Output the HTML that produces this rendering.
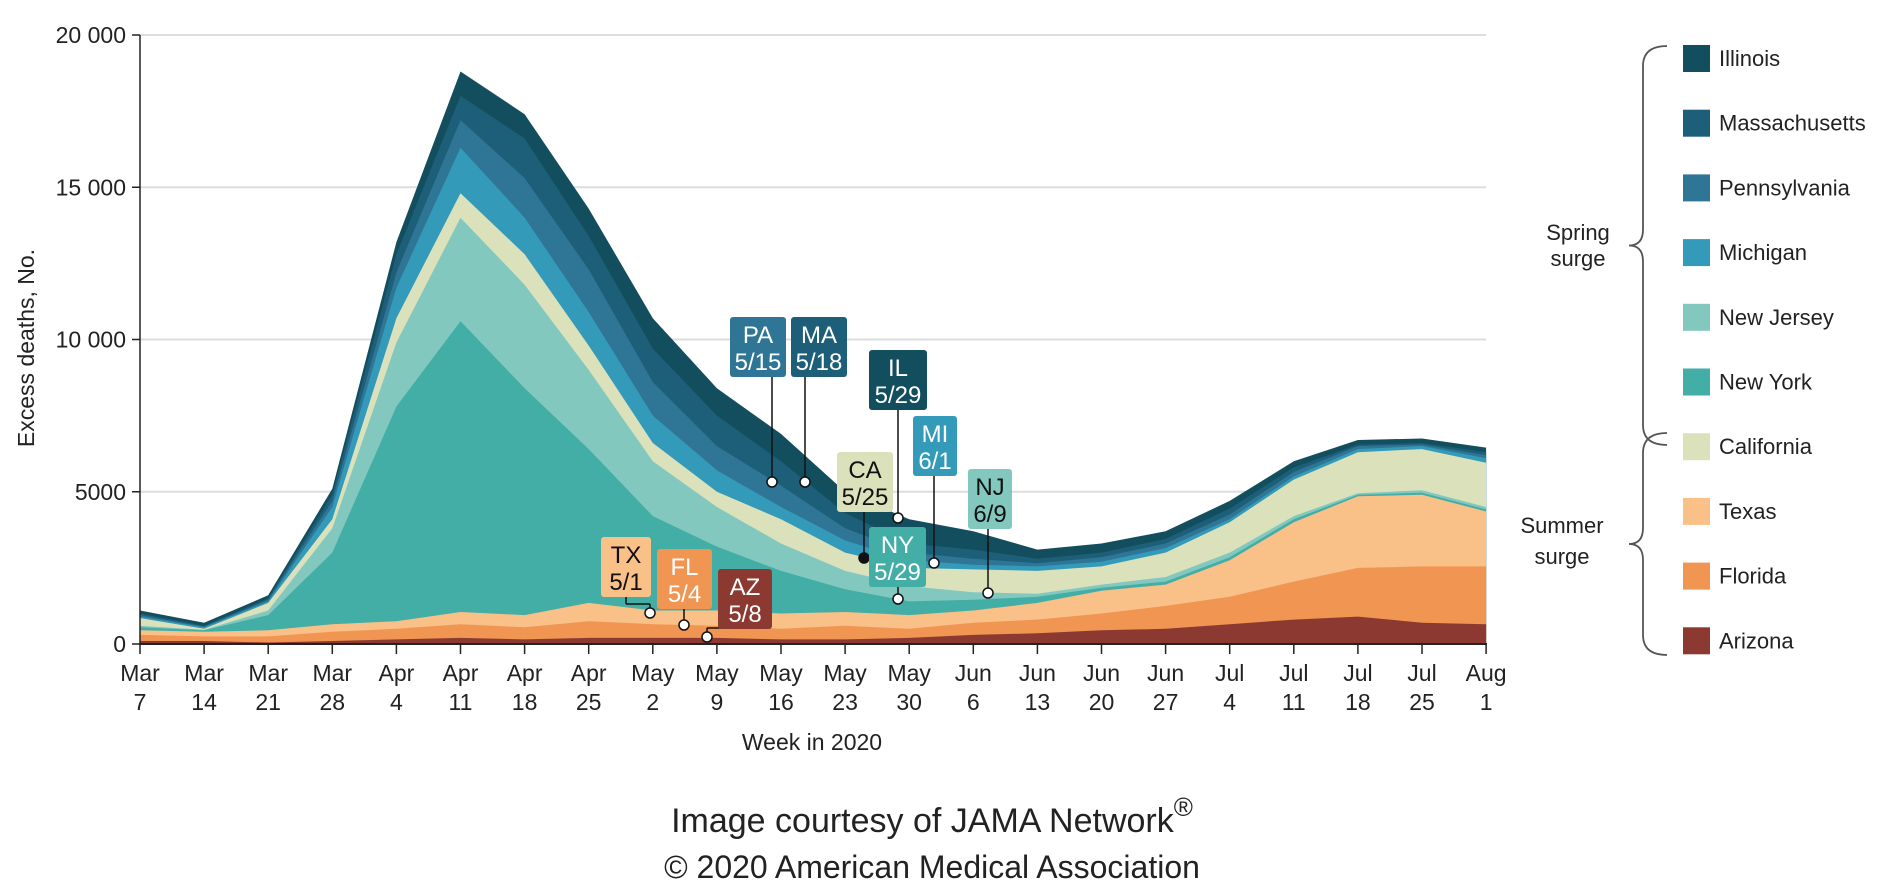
<!DOCTYPE html>
<html><head><meta charset="utf-8"><style>
body{margin:0;background:#fff;}
svg{display:block;font-family:"Liberation Sans Narrow","Liberation Sans",sans-serif;}
</style></head><body>
<svg id="s" width="1885" height="888" viewBox="0 0 1885 888" xmlns="http://www.w3.org/2000/svg"></svg>
<script>
const S=document.getElementById('s');
const X=i=>140+64.1*i, Y=v=>644-v*30.45;
const tops={
AZ:[0.1,0.1,0.05,0.1,0.15,0.2,0.15,0.2,0.2,0.2,0.15,0.15,0.2,0.3,0.35,0.45,0.5,0.65,0.8,0.9,0.7,0.65],
FL:[0.3,0.25,0.25,0.4,0.5,0.65,0.55,0.75,0.65,0.6,0.5,0.6,0.5,0.7,0.8,1.0,1.25,1.55,2.05,2.5,2.55,2.55],
TX:[0.45,0.4,0.45,0.65,0.75,1.05,0.95,1.35,1.1,1.1,1.0,1.05,0.95,1.1,1.35,1.75,1.95,2.75,4.0,4.85,4.9,4.35],
NY:[0.55,0.45,0.95,3.0,7.8,10.6,8.4,6.4,4.2,3.2,2.4,1.8,1.4,1.45,1.55,1.85,2.05,2.85,4.1,4.9,4.97,4.42],
NJ:[0.6,0.47,1.1,3.8,9.9,14.0,11.8,9.0,6.0,4.5,3.3,2.4,1.9,1.7,1.65,1.95,2.2,3.0,4.2,4.95,5.05,4.5],
CA:[0.85,0.5,1.35,4.1,10.7,14.8,12.8,9.8,6.6,5.0,4.1,3.0,2.5,2.45,2.4,2.55,3.0,4.0,5.4,6.3,6.4,5.95],
MI:[0.9,0.55,1.4,4.5,11.7,16.3,14.0,10.9,7.5,5.7,4.5,3.4,2.75,2.6,2.55,2.7,3.15,4.1,5.5,6.4,6.5,6.1],
PA:[0.95,0.57,1.45,4.7,12.2,17.2,15.3,12.3,8.6,6.5,5.2,3.8,3.0,2.8,2.65,2.85,3.3,4.25,5.65,6.5,6.55,6.2],
MA:[1.0,0.6,1.5,4.9,12.8,18.0,16.6,13.4,9.7,7.5,6.0,4.3,3.3,3.1,2.8,3.0,3.45,4.45,5.8,6.55,6.6,6.3],
IL:[1.1,0.7,1.6,5.1,13.2,18.8,17.4,14.3,10.7,8.4,6.9,5.0,4.1,3.7,3.1,3.3,3.7,4.7,6.0,6.7,6.75,6.45]};
const col={AZ:'#8c3a31',FL:'#f19553',TX:'#f9c088',NY:'#42aea6',NJ:'#82c8bf',CA:'#dbe2bb',MI:'#339bb9',PA:'#2f7696',MA:'#1d5f78',IL:'#124e5e'};
let h='';
for(let v=5;v<=20;v+=5)h+=`<line x1="140" x2="1486" y1="${Y(v)}" y2="${Y(v)}" stroke="#ddd" stroke-width="2"/>`;
const order=['IL','MA','PA','MI','CA','NJ','NY','TX','FL','AZ'];
for(const k of order){let p=`M${X(0)},644`;tops[k].forEach((v,i)=>p+=` L${X(i).toFixed(1)},${Y(v).toFixed(1)}`);p+=` L${X(21)},644Z`;h+=`<path d="${p}" fill="${col[k]}"/>`;}
h+=`<line x1="140" x2="140" y1="35" y2="645" stroke="#222" stroke-width="1.5"/><line x1="139" x2="1487" y1="644" y2="644" stroke="#222" stroke-width="2"/>`;
const yl=['0','5000','10 000','15 000','20 000'];
for(let j=0;j<5;j++){const y=Y(j*5);h+=`<line x1="132" x2="140" y1="${y}" y2="${y}" stroke="#222" stroke-width="1.5"/><text x="126" y="${y+8}" font-size="23" text-anchor="end" fill="#222">${yl[j]}</text>`;}
const m=['Mar','Mar','Mar','Mar','Apr','Apr','Apr','Apr','May','May','May','May','May','Jun','Jun','Jun','Jun','Jul','Jul','Jul','Jul','Aug'];
const d=[7,14,21,28,4,11,18,25,2,9,16,23,30,6,13,20,27,4,11,18,25,1];
for(let i=0;i<22;i++){const x=X(i);h+=`<line x1="${x}" x2="${x}" y1="644" y2="654" stroke="#222" stroke-width="1.5"/><text x="${x}" y="681" font-size="23" text-anchor="middle" fill="#222">${m[i]}</text><text x="${x}" y="710" font-size="23" text-anchor="middle" fill="#222">${d[i]}</text>`;}
h+=`<text x="812" y="750" font-size="23" text-anchor="middle" fill="#222">Week in 2020</text>`;
h+=`<text transform="translate(34,348) rotate(-90)" font-size="23" text-anchor="middle" fill="#222">Excess deaths, No.</text>`;
const ann=[
['PA','5/15',730,317,56,60,col.PA,'#fff',[[772,377,772,482]],772,482,'#fff'],
['MA','5/18',791,317,56,60,col.MA,'#fff',[[805,377,805,482]],805,482,'#fff'],
['IL','5/29',869,350,58,60,col.IL,'#fff',[[898,410,898,518]],898,518,'#fff'],
['MI','6/1',913,416,44,60,col.MI,'#fff',[[934,476,934,563]],934,563,'#fff'],
['CA','5/25',837,452,56,60,col.CA,'#111',[[864,512,864,558]],864,558,'#111'],
['NY','5/29',869,527,57,60,col.NY,'#fff',[[898,587,898,599]],898,599,'#fff'],
['NJ','6/9',968,469,44,60,col.NJ,'#111',[[988,529,988,593]],988,593,'#fff'],
['TX','5/1',601,537,50,60,col.TX,'#111',[[626,597,626,604],[626,604,650,604],[650,604,650,613]],650,613,'#fff'],
['FL','5/4',657,549,55,60,col.FL,'#fff',[[684,609,684,625]],684,625,'#fff'],
['AZ','5/8',718,569,54,60,col.AZ,'#fff',[[745,629,745,628],[745,628,707,628],[707,628,707,637]],707,637,'#fff']];
for(const a of ann){
 for(const l of a[8])h+=`<line x1="${l[0]}" y1="${l[1]}" x2="${l[2]}" y2="${l[3]}" stroke="#111" stroke-width="1.5"/>`;
 h+=`<rect x="${a[2]}" y="${a[3]}" width="${a[4]}" height="${a[5]}" rx="3" fill="${a[6]}"/>`;
 const cx=a[2]+a[4]/2;
 h+=`<text x="${cx}" y="${a[3]+26}" font-size="24" text-anchor="middle" fill="${a[7]}">${a[0]}</text><text x="${cx}" y="${a[3]+53}" font-size="24" text-anchor="middle" fill="${a[7]}">${a[1]}</text>`;
 h+=`<circle cx="${a[9]}" cy="${a[10]}" r="5" fill="${a[11]}" stroke="#111" stroke-width="1.5"/>`;
}
const leg=[['Illinois','IL'],['Massachusetts','MA'],['Pennsylvania','PA'],['Michigan','MI'],['New Jersey','NJ'],['New York','NY'],['California','CA'],['Texas','TX'],['Florida','FL'],['Arizona','AZ']];
leg.forEach((l,i)=>{const y=58+i*64.7;h+=`<rect x="1683" y="${y-13}" width="27" height="27" fill="${col[l[1]]}"/><text x="1719" y="${y+8}" font-size="22" fill="#222">${l[0]}</text>`;});
function brace(x,y1,y2){const m=(y1+y2)/2;return `<path d="M${x+30},${y1} Q${x+6},${y1} ${x+6},${y1+20} L${x+6},${m-16} Q${x+6},${m} ${x-8},${m} Q${x+6},${m} ${x+6},${m+16} L${x+6},${y2-20} Q${x+6},${y2} ${x+30},${y2}" fill="none" stroke="#555" stroke-width="1.8"/>`;}
h+=brace(1637,46,445)+brace(1637,433,655);
h+=`<text x="1578" y="240" font-size="22" text-anchor="middle" fill="#222">Spring</text><text x="1578" y="266" font-size="22" text-anchor="middle" fill="#222">surge</text>`;
h+=`<text x="1562" y="533" font-size="22" text-anchor="middle" fill="#222">Summer</text><text x="1562" y="564" font-size="22" text-anchor="middle" fill="#222">surge</text>`;
h+=`<text x="932" y="832" font-size="34" text-anchor="middle" fill="#222" style="font-family:'Liberation Sans',sans-serif">Image courtesy of JAMA Network<tspan font-size="26" dy="-16">®</tspan></text>`;
h+=`<text x="932" y="878" font-size="32" text-anchor="middle" fill="#222" style="font-family:'Liberation Sans',sans-serif">© 2020 American Medical Association</text>`;
S.innerHTML=h;
</script>
</body></html>
